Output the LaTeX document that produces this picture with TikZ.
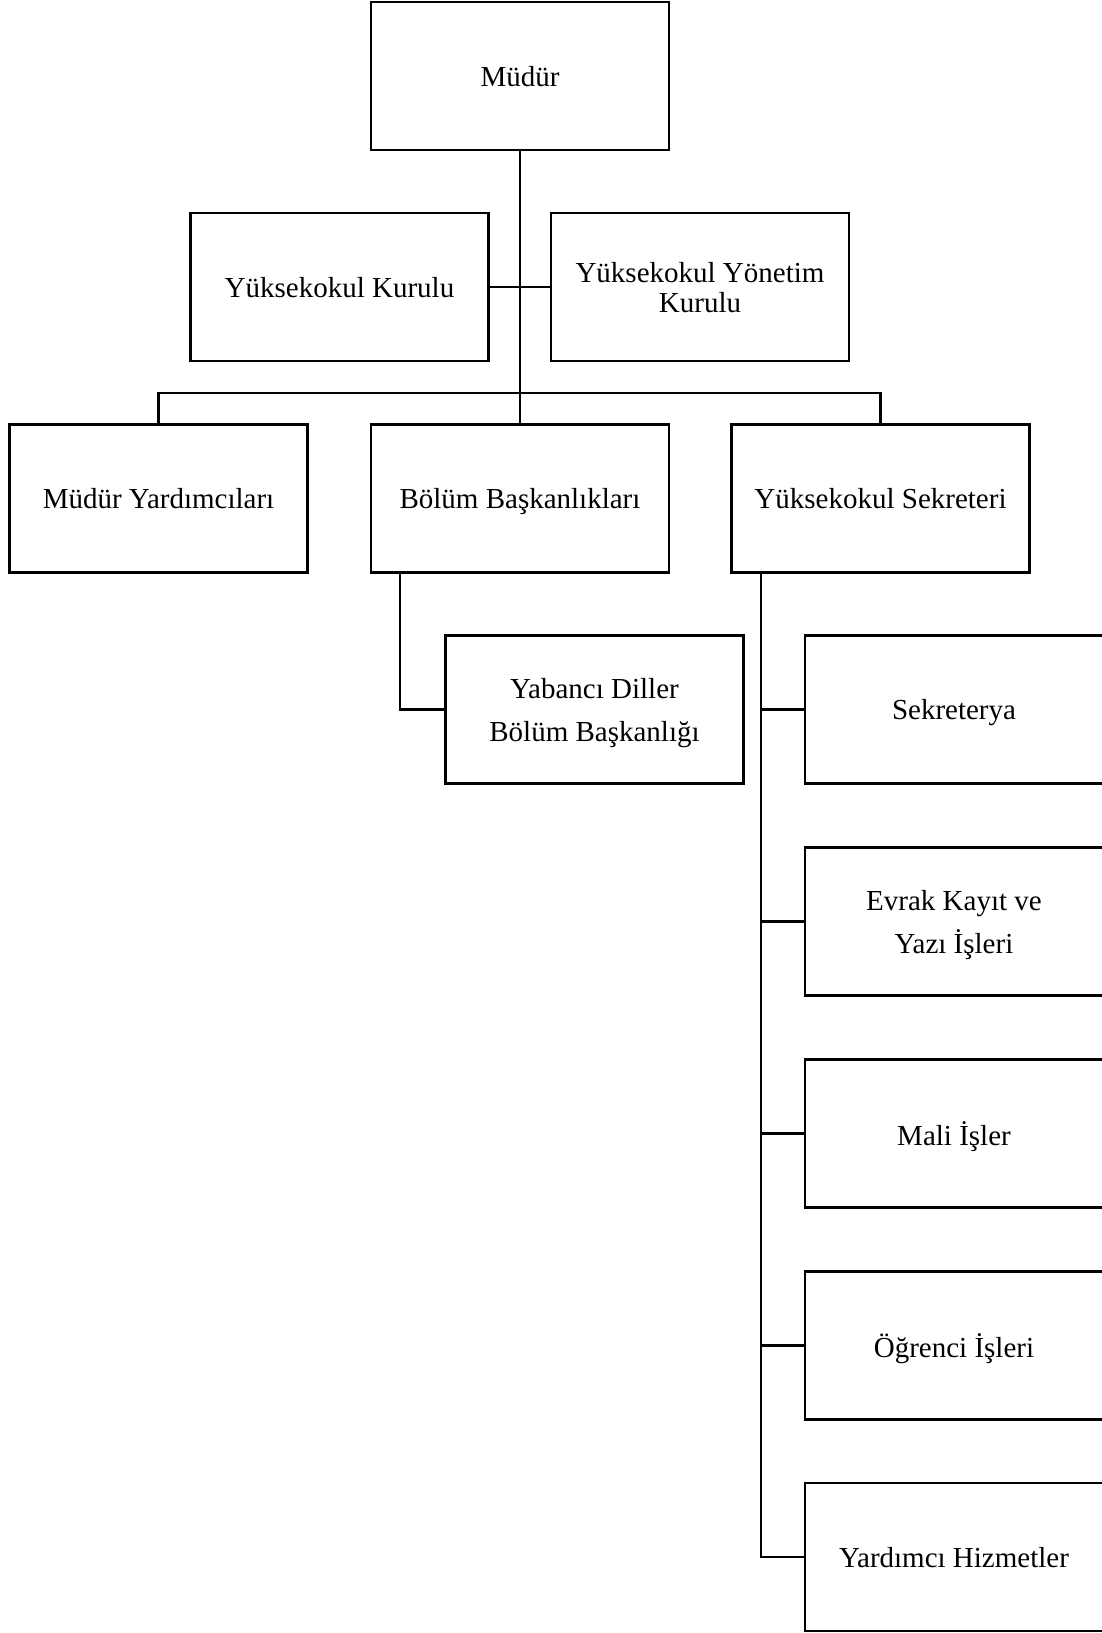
\documentclass[tikz,border=0pt]{standalone}
\usepackage{fontspec}
\setmainfont{Liberation Serif}
\begin{document}
\begin{tikzpicture}[x=1pt,y=-1pt,
  box/.style={draw,line width=2.8pt,minimum width=298pt,minimum height=148pt,inner sep=0pt,outer sep=0pt,align=center,text depth=0pt,font=\fontsize{29}{43}\selectfont},
  conn/.style={line width=2.8pt}]
\useasboundingbox (0,0) rectangle (1101,1633);
\node[box] (mudur) at (520,76) {Müdür};
\node[box] (kurulu) at (339.5,287) {Yüksekokul Kurulu};
\node[box] (yonetim) at (700,287) {Yüksekokul Yönetim\\[-13pt]Kurulu};
\node[box] (my) at (158.5,498.5) {Müdür Yardımcıları};
\node[box] (bb) at (520,498.5) {Bölüm Başkanlıkları};
\node[box] (ys) at (880.5,498.5) {Yüksekokul Sekreteri};
\node[box] (yd) at (594.5,709.5) {Yabancı Diller\\Bölüm Başkanlığı\rule{0pt}{0pt}};
\node[box] (sek) at (954,709.5) {Sekreterya};
\node[box] (evr) at (954,921.5) {Evrak Kayıt ve\\Yazı İşleri};
\node[box] (mali) at (954,1133.5) {Mali İşler};
\node[box] (ogr) at (954,1345.5) {Öğrenci İşleri};
\node[box] (yh) at (954,1557) {Yardımcı Hizmetler};
\coordinate (bus) at (520,393);
\coordinate (bbx) at (400,572.5);
\coordinate (ysx) at (761,572.5);
\draw[conn] (mudur.south) -- (bb.north);
\draw[conn] (kurulu.east) -- (yonetim.west);
\draw[conn] (my.north) |- (bus) -| (ys.north);
\draw[conn] (bbx) |- (yd.west);
\draw[conn] (ysx) |- (yh.west);
\draw[conn] (ysx |- sek.west) -- (sek.west);
\draw[conn] (ysx |- evr.west) -- (evr.west);
\draw[conn] (ysx |- mali.west) -- (mali.west);
\draw[conn] (ysx |- ogr.west) -- (ogr.west);
\end{tikzpicture}
\end{document}
